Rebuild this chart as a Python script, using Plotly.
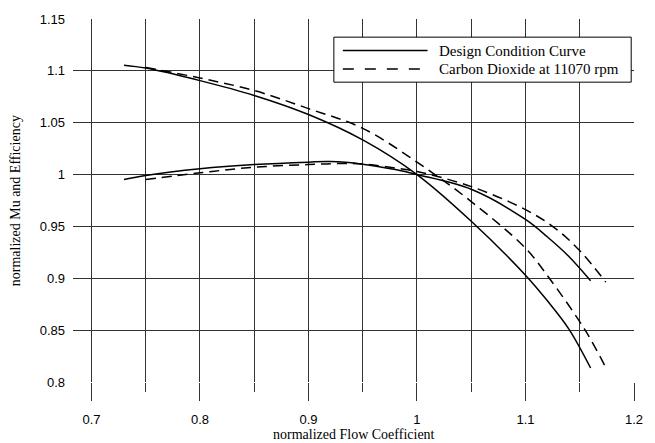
import plotly.graph_objects as go

# ---- data ----
mu_design_x = [0.73, 0.75, 0.80, 0.85, 0.90, 0.95, 1.00, 1.05, 1.10, 1.12, 1.14, 1.16]
mu_design_y = [1.1055, 1.1027, 1.0906, 1.0763, 1.0579, 1.0334, 1.000, 0.955, 0.903, 0.8785, 0.851, 0.8135]

mu_co2_x = [0.75, 0.80, 0.85, 0.90, 0.95, 1.00, 1.05, 1.10, 1.122, 1.155, 1.173]
mu_co2_y = [1.1033, 1.0931, 1.081, 1.0636, 1.0446, 1.012, 0.974, 0.929, 0.900, 0.850, 0.816]

eff_design_x = [0.73, 0.75, 0.80, 0.85, 0.90, 0.92, 0.95, 0.98, 1.00, 1.05, 1.10, 1.12, 1.14, 1.16]
eff_design_y = [0.9953, 0.9991, 1.0055, 1.0096, 1.0120, 1.0125, 1.0100, 1.0048, 1.000, 0.9858, 0.9567, 0.940, 0.921, 0.8976]

eff_co2_x = [0.75, 0.80, 0.85, 0.90, 0.925, 0.95, 0.983, 1.00, 1.05, 1.10, 1.128, 1.151, 1.174]
eff_co2_y = [0.9953, 1.0017, 1.0071, 1.0096, 1.0106, 1.0103, 1.0058, 1.003, 0.9884, 0.9662, 0.9477, 0.9255, 0.8963]

series_names = ["Design Condition Curve", "Carbon Dioxide at 11070 rpm"]
y_tick_vals = [0.8, 0.85, 0.9, 0.95, 1.0, 1.05, 1.1, 1.15]
y_tick_text = ["0.8", "0.85", "0.9", "0.95", "1", "1.05", "1.1", "1.15"]
x_tick_vals = [0.7, 0.8, 0.9, 1.0, 1.1, 1.2]
x_tick_text = ["0.7", "0.8", "0.9", "1", "1.1", "1.2"]
x_title = "normalized Flow Coefficient"
y_title = "normalized Mu and Efficiency"

SERIF = "Liberation Serif, Times New Roman, serif"
SANS = "Liberation Sans, Arial, sans-serif"
GRID = "#333333"

fig = go.Figure()
solid = dict(color="black", width=1.5, shape="spline", smoothing=1.0)
dashed = dict(color="black", width=1.5, shape="spline", smoothing=1.0, dash="10px,6px")

fig.add_trace(go.Scatter(x=mu_design_x, y=mu_design_y, mode="lines", line=solid,
                         name=series_names[0], showlegend=False))
fig.add_trace(go.Scatter(x=eff_design_x, y=eff_design_y, mode="lines", line=solid,
                         name=series_names[0], showlegend=False))
fig.add_trace(go.Scatter(x=mu_co2_x, y=mu_co2_y, mode="lines", line=dashed,
                         name=series_names[1], showlegend=False))
fig.add_trace(go.Scatter(x=eff_co2_x, y=eff_co2_y, mode="lines", line=dashed,
                         name=series_names[1], showlegend=False))

fig.update_layout(
    width=655, height=443,
    margin=dict(l=73, r=12, t=14, b=61),
    paper_bgcolor="white", plot_bgcolor="white",
    showlegend=False,
    xaxis=dict(
        range=[0.683, 1.2],
        tickmode="array", tickvals=x_tick_vals, ticktext=x_tick_text,
        ticks="outside", ticklen=18, tickcolor=GRID, tickwidth=1,
        showgrid=True, gridcolor=GRID, gridwidth=1,
        minor=dict(tickmode="linear", tick0=0.7, dtick=0.05, ticks="outside", ticklen=9,
                   tickcolor=GRID, showgrid=True, gridcolor=GRID, gridwidth=1),
        zeroline=False, showline=False,
        tickfont=dict(family=SANS, size=13, color="black"),
        ticklabelstandoff=7,
    ),
    yaxis=dict(
        range=[0.8, 1.15],
        tickmode="array", tickvals=y_tick_vals, ticktext=y_tick_text,
        ticks="", showgrid=True, gridcolor=GRID, gridwidth=1,
        zeroline=False, showline=False,
        tickfont=dict(family=SANS, size=13, color="black"),
        ticklabelstandoff=7,
    ),
)

# axis titles
fig.add_annotation(xref="paper", yref="paper", x=0.5, y=-0.145, text=x_title, showarrow=False,
                   xanchor="center", yanchor="middle", font=dict(family=SERIF, size=14, color="black"))
fig.add_annotation(xref="paper", yref="paper", x=-0.102, y=0.5, text=y_title, showarrow=False,
                   textangle=-90, xanchor="center", yanchor="middle",
                   font=dict(family=SERIF, size=14, color="black"))

# custom legend box (paper coordinates)
x0, x1, y0, y1 = 0.465, 0.995, 0.826, 0.95
fig.add_shape(type="rect", xref="paper", yref="paper", x0=x0, x1=x1, y0=y0, y1=y1,
              line=dict(color="black", width=1), fillcolor="white", layer="above")
rows = [(0.913, "solid"), (0.862, "11px,11px")]
for (yy, ds), name in zip(rows, series_names):
    fig.add_shape(type="line", xref="paper", yref="paper", x0=0.481, x1=0.632, y0=yy, y1=yy,
                  line=dict(color="black", width=1.5, dash=ds), layer="above")
    fig.add_annotation(xref="paper", yref="paper", x=0.648, y=yy, text=name, showarrow=False,
                       xanchor="left", yanchor="middle",
                       font=dict(family=SERIF, size=15, color="black"))

fig.write_html("out.html")
